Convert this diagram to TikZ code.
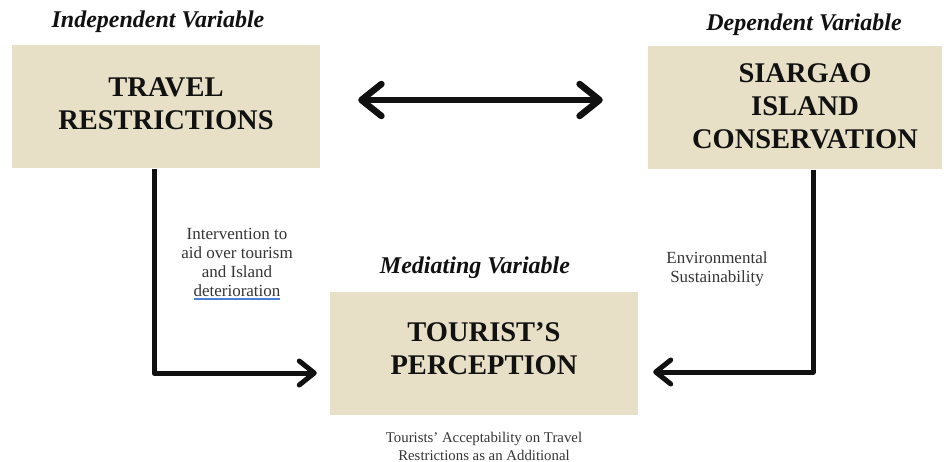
\documentclass[tikz,border=0pt]{standalone}
\usepackage{fontspec}
\setmainfont{Liberation Serif}
\usetikzlibrary{arrows.meta}
\definecolor{boxfill}{HTML}{E8E0C6}
\definecolor{ulblue}{HTML}{4A7FD8}
\definecolor{ink}{HTML}{111111}
\newcommand\blueul[1]{{\setbox0\hbox{#1}\rlap{\color{ulblue}\rule[-3pt]{\wd0}{1.3pt}}\box0}}
\begin{document}
\begin{tikzpicture}[x=1pt,y=-1pt,
  varbox/.style={fill=boxfill,draw=none,minimum height=123pt,inner sep=0pt},
  boxtext/.style={font=\fontsize{28.5}{33}\selectfont\bfseries,text=ink,align=center},
  header/.style={font=\fontsize{24}{26}\selectfont\bfseries\itshape,text=ink},
  small/.style={font=\fontsize{17}{19}\selectfont,text=ink!85,align=center},
  tiny/.style={font=\fontsize{14.8}{18}\selectfont,text=ink!85,align=center},
  conn/.style={line width=5pt,draw=ink,line join=round,
    -{Straight Barb[length=15pt,width=24pt,line width=5pt,round]}},
  dbl/.style={line width=6.5pt,draw=ink,
    {Straight Barb[length=20pt,width=32pt,line width=6.5pt,round]}-{Straight Barb[length=20pt,width=32pt,line width=6.5pt,round]}}]
\useasboundingbox (0,0) rectangle (944,462);
\fill[white] (0,0) rectangle (944,462);

\node[varbox,minimum width=308pt] (travel) at (166,107) {};
\node[boxtext] (traveltxt) at (166,104) {TRAVEL\\RESTRICTIONS};
\node[varbox,minimum width=294pt] (siargao) at (795,108) {};
\node[boxtext] (siargaotxt) at (805,106) {SIARGAO\\ISLAND\\CONSERVATION};
\node[varbox,minimum width=308pt] (tourist) at (484,353) {};
\node[boxtext] (touristtxt) at (484,349) {TOURIST’S\\PERCEPTION};

\node[header] (indep) at (158,22) {Independent Variable};
\node[header] (dep) at (804,25) {Dependent Variable};
\node[header] (med) at (475,268) {Mediating Variable};

\node[small] (interv) at (237,264) {Intervention to\\aid over tourism\\and Island\\\blueul{deterioration}};
\node[small] (env) at (717,269) {Environmental\\Sustainability};
\node[tiny] (accept) at (484,446) {Tourists’ Acceptability on Travel\\Restrictions as an Additional};

\draw[dbl] ([xshift=38pt,yshift=7pt]travel.east) -- ([xshift=-45pt,yshift=8pt]siargao.west);
\draw[conn] ([xshift=-12pt]travel.south) |- ([xshift=-13pt,yshift=-20pt]tourist.west);
\draw[conn] ([xshift=18pt]siargao.south) |- ([xshift=15pt,yshift=-19pt]tourist.east);
\end{tikzpicture}
\end{document}
